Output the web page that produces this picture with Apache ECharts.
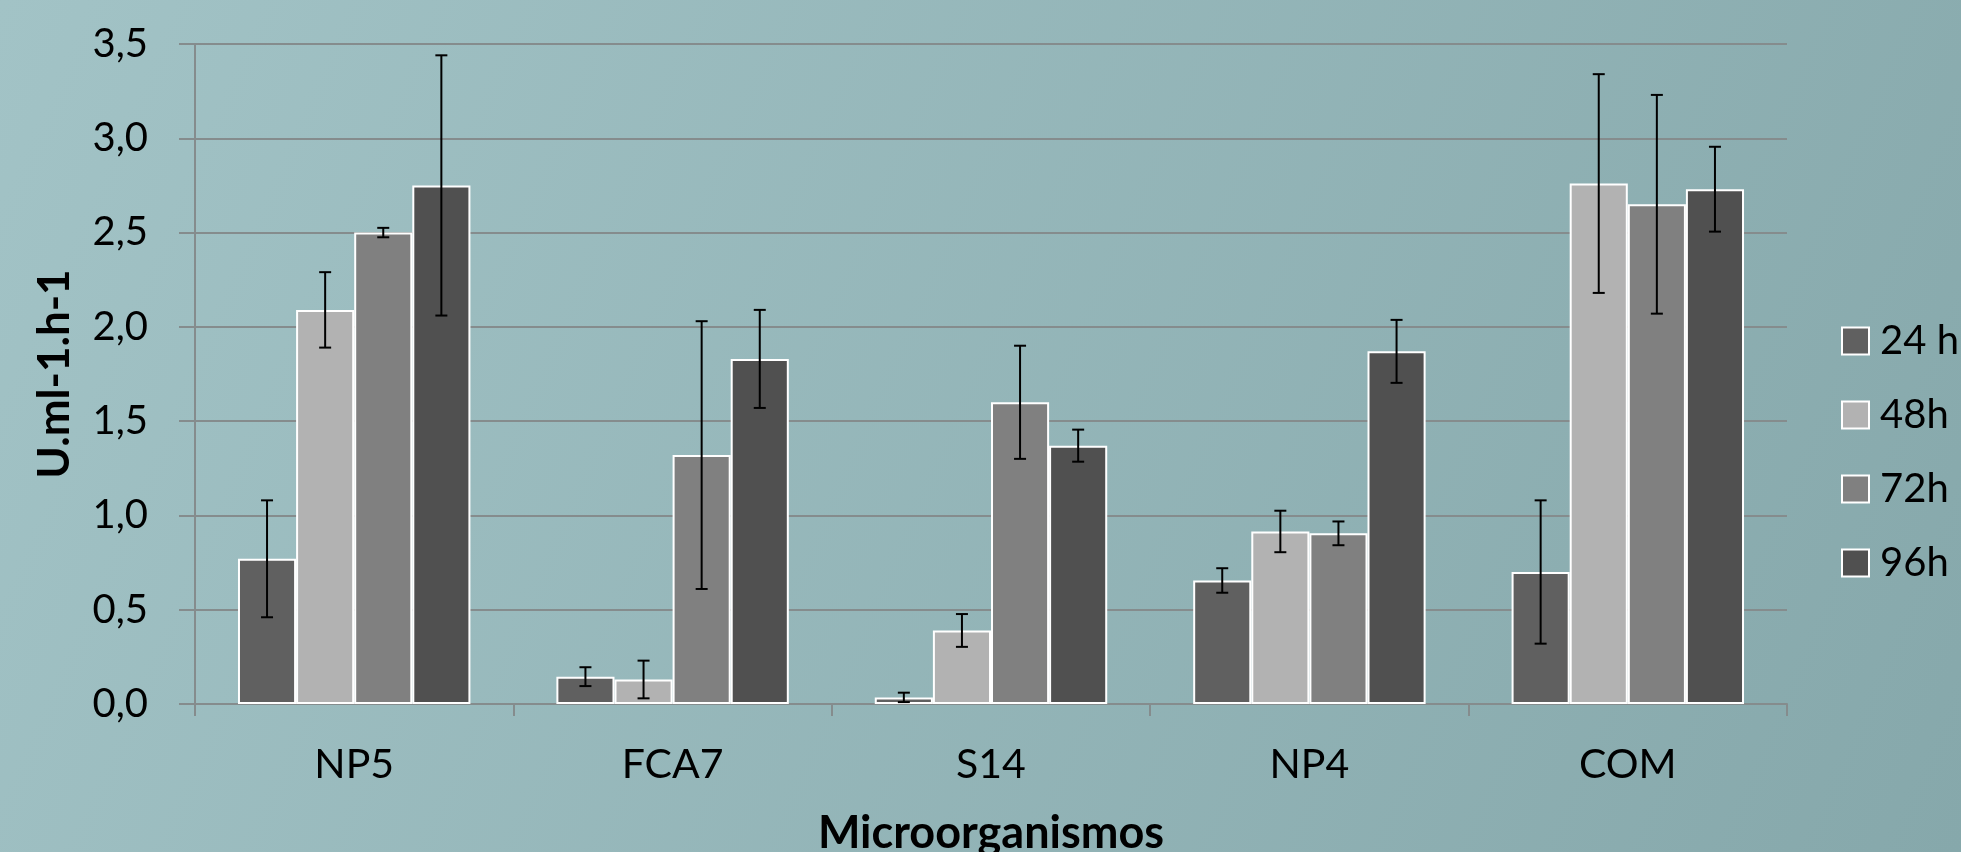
<!DOCTYPE html>
<html>
<head>
<meta charset="utf-8">
<script src="https://cdn.jsdelivr.net/npm/echarts@6/dist/echarts.min.js"></script>
<style>
html,body{margin:0;padding:0;width:1961px;height:852px;overflow:hidden;}
#c{width:1961px;height:852px;}
</style>
</head>
<body>
<div id="c"></div>
<script>
const categories = ['NP5', 'FCA7', 'S14', 'NP4', 'COM'];
const seriesNames = ['24 h', '48h', '72h', '96h'];
const values24 = [0.77, 0.145, 0.035, 0.655, 0.70];
const values48 = [2.09, 0.13, 0.39, 0.915, 2.76];
const values72 = [2.50, 1.32, 1.60, 0.905, 2.65];
const values96 = [2.75, 1.83, 1.37, 1.87, 2.73];
const err24 = [0.31, 0.05, 0.025, 0.065, 0.38];
const err48 = [0.20, 0.10, 0.087, 0.11, 0.58];
const err72 = [0.025, 0.71, 0.30, 0.063, 0.58];
const err96 = [0.69, 0.26, 0.085, 0.167, 0.225];
const yTicks = { min: 0, max: 3.5, interval: 0.5 };

const colors = ['#606060', '#b2b2b2', '#808080', '#505050'];
const allValues = [values24, values48, values72, values96];
const allErrors = [err24, err48, err72, err96];
const catGap = 0.27;

const chart = echarts.init(document.getElementById('c'));

const barSeries = seriesNames.map((name, s) => ({
  name: name,
  type: 'bar',
  data: allValues[s],
  barGap: '0%',
  barCategoryGap: (catGap * 100) + '%',
  itemStyle: { color: colors[s], borderColor: '#ffffff', borderWidth: 2 },
  emphasis: { disabled: true },
  z: 2
}));

const errSeries = seriesNames.map((name, s) => ({
  name: name + ' err',
  type: 'custom',
  data: categories.map((c, i) => [i, allValues[s][i] - allErrors[s][i], allValues[s][i] + allErrors[s][i]]),
  renderItem: function (params, api) {
    const idx = api.value(0);
    const lo = api.coord([idx, api.value(1)]);
    const hi = api.coord([idx, api.value(2)]);
    const bandW = api.size([1, 0])[0];
    const barW = bandW * (1 - catGap) / 4;
    const x = lo[0] + (s - 1.5) * barW;
    const cap = 6;
    const style = { stroke: '#000000', lineWidth: 2 };
    return {
      type: 'group',
      children: [
        { type: 'line', shape: { x1: x, y1: lo[1], x2: x, y2: hi[1] }, style: style },
        { type: 'line', shape: { x1: x - cap, y1: lo[1], x2: x + cap, y2: lo[1] }, style: style },
        { type: 'line', shape: { x1: x - cap, y1: hi[1], x2: x + cap, y2: hi[1] }, style: style }
      ]
    };
  },
  z: 5,
  silent: true
}));

chart.setOption({
  backgroundColor: {
    type: 'linear', x: 0, y: 0, x2: 1, y2: 1,
    colorStops: [
      { offset: 0, color: '#a2c3c6' },
      { offset: 1, color: '#86a8ab' }
    ]
  },
  animation: false,
  grid: { left: 195, right: 174, top: 44, bottom: 148, containLabel: false, outerBoundsMode: 'none' },
  legend: {
    data: seriesNames,
    orient: 'vertical',
    left: 1836,
    top: 316,
    itemWidth: 27,
    itemHeight: 27,
    itemGap: 34,
    icon: 'rect',
    textStyle: { fontFamily: 'Lato', fontSize: 40, color: '#000000', padding: [0, 0, 0, 6] }
  },
  xAxis: {
    type: 'category',
    data: categories,
    name: 'Microorganismos',
    nameLocation: 'middle',
    nameGap: 107,
    nameTextStyle: { fontFamily: 'Lato', fontWeight: 'bold', fontSize: 45, color: '#000000' },
    axisLine: { show: true, lineStyle: { color: '#858c8d', width: 2 } },
    axisTick: { show: true, length: 12, lineStyle: { color: '#858c8d', width: 2 } },
    axisLabel: { fontFamily: 'Lato', fontSize: 41, color: '#000000', margin: 40 }
  },
  yAxis: {
    type: 'value',
    min: yTicks.min,
    max: yTicks.max,
    interval: yTicks.interval,
    name: 'U.ml-1.h-1',
    nameLocation: 'middle',
    nameGap: 118,
    nameTextStyle: { fontFamily: 'Lato', fontWeight: 'bold', fontSize: 44, color: '#000000' },
    axisLine: { show: true, lineStyle: { color: '#858c8d', width: 2 } },
    axisTick: { show: true, length: 16, lineStyle: { color: '#858c8d', width: 2 } },
    splitLine: { show: true, lineStyle: { color: '#858c8d', width: 2 } },
    axisLabel: {
      fontFamily: 'Lato', fontSize: 40, color: '#000000', margin: 47,
      formatter: v => v.toFixed(1).replace('.', ',')
    }
  },
  series: barSeries.concat(errSeries)
});
</script>
</body>
</html>
